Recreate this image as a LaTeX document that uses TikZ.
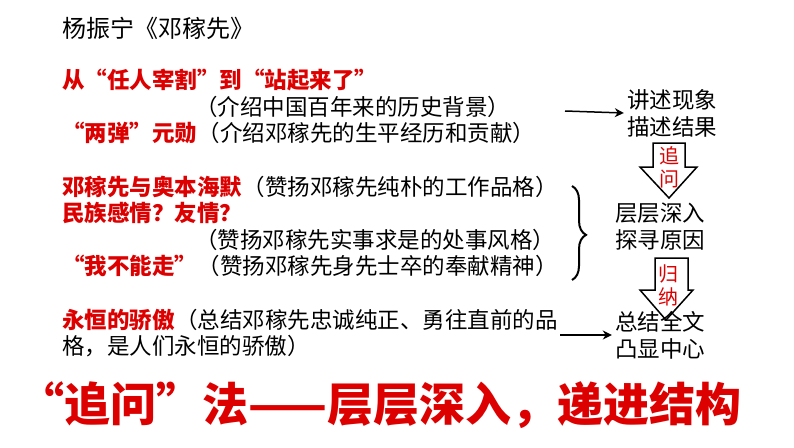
\documentclass[tikz,border=0pt]{standalone}
\usepackage{fontspec}
\setmainfont{Noto Sans CJK SC}
\usetikzlibrary{decorations.pathreplacing,arrows.meta}
\definecolor{myred}{RGB}{220,0,0}
\begin{document}
\begin{tikzpicture}[x=1pt,y=-1pt,
  t/.style={anchor=west,inner sep=0,font=\fontsize{22.5}{26}\selectfont},
  r/.style={t,text=myred,font=\fontsize{22.5}{26}\selectfont\bfseries},
  rt/.style={anchor=center,inner sep=0,align=center,font=\fontsize{22.5}{27}\selectfont},
  blk/.style={draw,line width=1.5pt,fill=white},
  ar/.style={-{Stealth[length=9pt,width=9pt]},line width=1.5pt}]
\useasboundingbox (0,0) rectangle (794,447);
\node[t,font=\fontsize{24}{28}\selectfont] (title) at (62,28) {杨振宁《邓稼先》};
\node[r] (l1) at (62,80) {从“任人宰割”到“站起来了”};
\node[t] (l2) at (195,107) {（介绍中国百年来的历史背景）};
\node[r] (l3) at (62,133) {“两弹”元勋};
\node[t] (l3b) at (l3.east) [anchor=west] {（介绍邓稼先的生平经历和贡献）};
\node[r] (l4) at (62,187) {邓稼先与奥本海默};
\node[t] (l4b) at (l4.east) [anchor=west] {（赞扬邓稼先纯朴的工作品格）};
\node[r] (l5) at (62,213) {民族感情？友情？};
\node[t] (l6) at (195,240) {（赞扬邓稼先实事求是的处事风格）};
\node[r] (l7) at (62,266) {“我不能走”};
\node[t] (l7b) at (l7.east) [anchor=west] {（赞扬邓稼先身先士卒的奉献精神）};
\node[r] (l8) at (62,320) {永恒的骄傲};
\node[t] (l8b) at (l8.east) [anchor=west] {（总结邓稼先忠诚纯正、勇往直前的品};
\node[t] (l9) at (62,346) {格，是人们永恒的骄傲）};
% right column
\node[rt] (a) at (672,113) {讲述现象\\描述结果};
\node[rt] (b) at (660,227) {层层深入\\探寻原因};
% block arrows
\draw[blk] (653,143) -- (685,143) -- (685,167) -- (697,167) -- (669,198) -- (640,167) -- (653,167) -- cycle;
\node[text=myred,align=center,font=\fontsize{20}{23}\selectfont] (q) at (669,167) {追\\问};
\draw[blk] (655,258) -- (688,258) -- (688,290) -- (693,290) -- (666,320) -- (640,290) -- (655,290) -- cycle;
\node[text=myred,align=center,font=\fontsize{20}{23}\selectfont] (g) at (668,285) {归\\纳};
\node[rt] (c) at (660,335) {总结全文\\凸显中心};
\coordinate (s1) at (565,111);
\coordinate (s2) at (560,335);
\draw[ar] (s1) -- ([xshift=-3pt]a.west);
\draw[ar] (s2) -- ([xshift=-3pt]c.west);
\draw[line width=2pt,decorate,decoration={brace,amplitude=14pt,aspect=0.52}] (572,186) -- (572,280);
\node[text=myred,anchor=west,inner sep=0,font=\fontsize{46}{50}\selectfont\bfseries] (bot) at (18,405) {“追问”法——层层深入，递进结构};
\end{tikzpicture}
\end{document}
